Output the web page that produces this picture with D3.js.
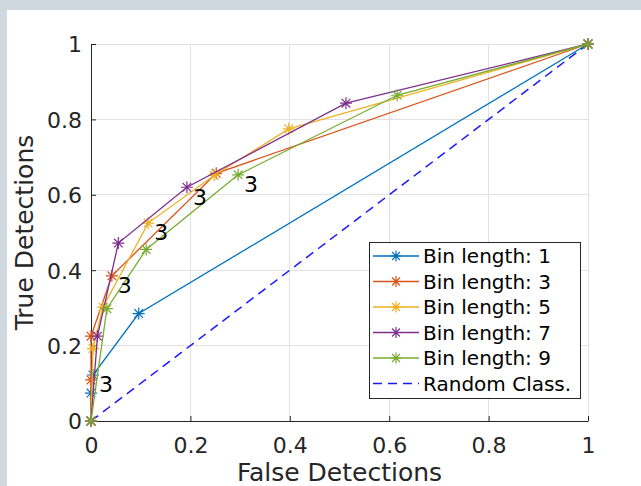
<!DOCTYPE html>
<html><head><meta charset="utf-8">
<script src="https://cdn.jsdelivr.net/npm/d3@7"></script>
<style>
html,body{margin:0;padding:0;background:#cfd7df;}
svg{display:block;}
</style></head>
<body>
<svg id="c" width="641" height="486"></svg>
<script>
// ---- data ----
const seriesNames = ["Bin length: 1","Bin length: 3","Bin length: 5","Bin length: 7","Bin length: 9"];
const bin1 = [[0,0],[0,0.074],[0.004,0.122],[0.096,0.285],[1,1]];
const bin3 = [[0,0],[0,0.109],[0,0.225],[0.042,0.385],[0.252,0.657],[1,1]];
const bin5 = [[0,0],[0.004,0.192],[0.024,0.302],[0.115,0.525],[0.248,0.652],[0.398,0.775],[1,1]];
const bin7 = [[0,0],[0.013,0.225],[0.055,0.472],[0.193,0.62],[0.513,0.843],[1,1]];
const bin9 = [[0,0],[0.032,0.298],[0.111,0.455],[0.296,0.653],[0.616,0.864],[1,1]];
const randomClass = [[0,0],[1,1]];
const randomName = "Random Class.";
// "3" annotations: [series index, point index]
const annotations = [[0,2],[1,3],[2,3],[3,3],[4,3]];
const annotationText = "3";
const xTicks = [0,0.2,0.4,0.6,0.8,1];
const yTicks = [0,0.2,0.4,0.6,0.8,1];
const xLabel = "False Detections";
const yLabel = "True Detections";

const allSeries = [bin1,bin3,bin5,bin7,bin9];
const colors = ["#0072BD","#D95319","#EDB120","#7E2F8E","#77AC30"];

const svg = d3.select("#c");
const font = "DejaVu Sans, sans-serif";
svg.append("rect").attr("x",7).attr("y",10).attr("width",634).attr("height",476).attr("fill","#ffffff");

const x = d3.scaleLinear().domain([0,1]).range([91,588]);
const y = d3.scaleLinear().domain([0,1]).range([421,44]);

// grid
const g = svg.append("g");
g.selectAll(".gx").data(xTicks).join("line")
  .attr("x1",d=>x(d)).attr("x2",d=>x(d)).attr("y1",y(0)).attr("y2",y(1))
  .attr("stroke","#e1e1e1").attr("stroke-width",1).attr("shape-rendering","crispEdges");
g.selectAll(".gy").data(yTicks).join("line")
  .attr("y1",d=>y(d)).attr("y2",d=>y(d)).attr("x1",x(0)).attr("x2",x(1))
  .attr("stroke","#e1e1e1").attr("stroke-width",1).attr("shape-rendering","crispEdges");

// axes
const fmt = d=>d===0||d===1?String(d):d3.format(".1f")(d);
const xAxis = d3.axisBottom(x).tickValues(xTicks).tickSizeInner(-5).tickSizeOuter(0).tickFormat(fmt);
const yAxis = d3.axisLeft(y).tickValues(yTicks).tickSizeInner(-5).tickSizeOuter(0).tickFormat(fmt);
const ax = svg.append("g").attr("transform",`translate(0,${y(0)})`).call(xAxis);
const ay = svg.append("g").attr("transform",`translate(${x(0)},0)`).call(yAxis);
[ax,ay].forEach(a=>{
  a.select(".domain").attr("stroke","#262626").attr("stroke-width",1);
  a.selectAll(".tick line").attr("stroke","#262626");
  a.selectAll(".tick text").attr("fill","#262626").attr("font-family",font).attr("font-size",22);
});
ax.selectAll(".tick text").attr("y",32).attr("dy","0");
ay.selectAll(".tick text").attr("x",-9).attr("dy","0.36em");

svg.append("text").attr("x",(x(0)+x(1))/2).attr("y",481).attr("text-anchor","middle")
  .attr("font-family",font).attr("font-size",25).attr("fill","#262626").text(xLabel);
svg.append("text").attr("transform",`translate(33,${(y(0)+y(1))/2}) rotate(-90)`).attr("text-anchor","middle")
  .attr("font-family",font).attr("font-size",25).attr("fill","#262626").text(yLabel);

// star marker
function star(sel, cx, cy, color, r){
  const d = r*0.72;
  const p = `M${cx-r},${cy}L${cx+r},${cy}M${cx},${cy-r}L${cx},${cy+r}M${cx-d},${cy-d}L${cx+d},${cy+d}M${cx-d},${cy+d}L${cx+d},${cy-d}`;
  sel.append("path").attr("d",p).attr("stroke",color).attr("stroke-width",1.2).attr("fill","none");
}

const line = d3.line().x(d=>x(d[0])).y(d=>y(d[1]));

// random line
svg.append("path").attr("d",line(randomClass)).attr("fill","none").attr("stroke","#1a1aff")
  .attr("stroke-width",1.5).attr("stroke-dasharray","9,6");

allSeries.forEach((s,i)=>{
  const gg = svg.append("g");
  gg.append("path").attr("d",line(s)).attr("fill","none").attr("stroke",colors[i]).attr("stroke-width",1.3);
  s.forEach(p=>star(gg,x(p[0]),y(p[1]),colors[i],6));
});

// annotations
annotations.forEach(([si,pi])=>{
  const p = allSeries[si][pi];
  svg.append("text").attr("x",x(p[0])+6).attr("y",y(p[1])+9.5).attr("dy","0.36em")
    .attr("font-family",font).attr("font-size",22).attr("fill","#000").text(annotationText);
});

// legend
const lg = svg.append("g");
lg.append("rect").attr("x",369.5).attr("y",242.5).attr("width",211).attr("height",156)
  .attr("fill","#fff").attr("stroke","#262626").attr("stroke-width",1);
const rowY = i => 256 + i*25.5;
const legendItems = seriesNames.map((n,i)=>({name:n,color:colors[i],dash:false}))
  .concat([{name:randomName,color:"#1a1aff",dash:true}]);
legendItems.forEach((it,i)=>{
  const yy = rowY(i);
  const l = lg.append("line").attr("x1",373).attr("x2",419).attr("y1",yy).attr("y2",yy)
    .attr("stroke",it.color).attr("stroke-width",it.dash?1.5:1.3);
  if(it.dash) l.attr("stroke-dasharray","9,6");
  else star(lg,396,yy,it.color,5.5);
  lg.append("text").attr("x",423).attr("y",yy).attr("dy","0.36em").attr("font-family",font)
    .attr("font-size",20).attr("fill","#000").text(it.name);
});
</script>
</body></html>
